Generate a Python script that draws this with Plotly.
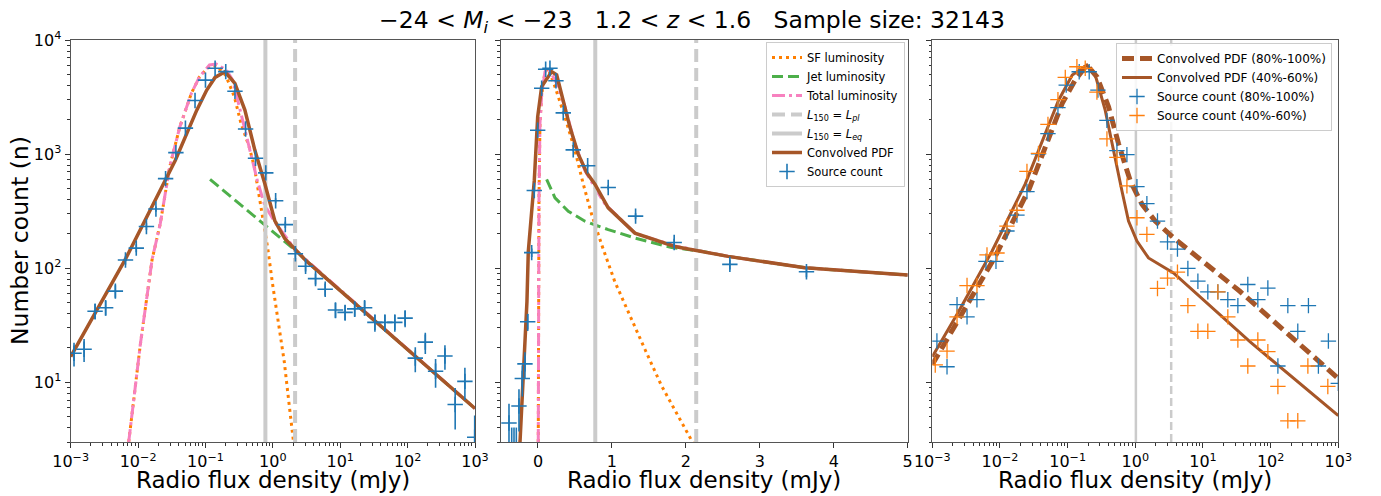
import numpy as np
import plotly.graph_objects as go

# ---------------- data ----------------
# Panel 1 (log flux axis) : source counts
p1_flux = [1.12e-3, 1.58e-3, 2.3e-3, 3.3e-3, 4.6e-3, 6.5e-3, 9.4e-3, 0.0133, 0.0184, 0.0256,
           0.0364, 0.0504, 0.070, 0.100, 0.139, 0.200, 0.274, 0.394, 0.553, 0.785,
           1.10, 1.53, 2.16, 3.06, 4.3, 5.98, 8.5, 11.8, 16.4, 23.0,
           32.7, 46.0, 64.6, 91.8, 130, 183, 260, 358, 508, 708, 990]
p1_count = [18, 19.5, 42, 45, 63, 118, 150, 232, 330, 610,
            1030, 1690, 2950, 4450, 5650, 5280, 3560, 1660, 920, 685,
            390, 241, 134, 104, 81, 65.5, 43, 41, 44, 45,
            33.5, 33.5, 33.5, 36.5, 16.3, 22.5, 12.5, 17, 6.4, 10.2, 3.3]

# Panel 1 model curves
p1_conv_x = [0.001, 0.00649, 0.0356, 0.0743, 0.1045, 0.1387, 0.195, 0.2735, 0.3846, 0.541,
             0.759, 1.067, 1.50, 2.234, 3.133, 1000]
p1_conv_y = [16.8, 120, 880, 2430, 3640, 4700, 5260, 4160, 2430, 1080,
             553, 262, 182, 143, 116, 5.9]
p1_total_x = [0.00726, 0.0108, 0.01614, 0.0214, 0.0294, 0.0416, 0.0617, 0.0815, 0.1148, 0.1445,
              0.204, 0.2536, 0.318, 0.398, 0.478, 0.589, 0.758, 1.067, 2.234, 1000]
p1_total_y = [3.0, 21.5, 119, 248, 770, 1730, 3400, 4760, 6040, 6160,
              5460, 4450, 2600, 1510, 1005, 585, 355, 255, 141, 5.9]
p1_sf_x = [0.00726, 0.0108, 0.01614, 0.0214, 0.0294, 0.0416, 0.0617, 0.0815, 0.1148, 0.1445,
           0.2, 0.2685, 0.337, 0.447, 0.532, 0.617, 0.706, 0.838, 0.993, 1.178,
           1.479, 1.71, 1.96, 2.04]
p1_sf_y = [3.0, 21.5, 119, 248, 770, 1730, 3400, 4760, 5900, 5950,
           4900, 3180, 1860, 1150, 770, 448, 260, 151, 72, 36.5,
           15.1, 7.1, 3.4, 2.9]
p1_jet_x = [0.117, 0.80, 2.234, 3.133, 1000]
p1_jet_y = [600, 232, 141, 116, 5.9]

# Panel 2 (linear flux axis) : source counts
p2_flux = [-0.392, -0.355, -0.324, -0.293, -0.257, -0.212, -0.176, -0.139, -0.085, -0.05,
           -0.004, 0.05, 0.104, 0.162, 0.243, 0.342, 0.477, 0.672, 0.95, 1.32,
           1.842, 2.595, 3.631]
p2_count = [4.4, 2.45, 2.45, 2.45, 6.2, 10.8, 14.5, 34, 137, 480,
            1620, 3780, 5550, 5650, 4400, 2300, 1090, 790, 510, 286,
            168, 108, 93]

# Panel 2 model curves
p2_conv_x = [-0.243, -0.149, -0.131, -0.05, -0.004, 0.05, 0.095, 0.185, 0.253, 0.32,
             0.432, 0.545, 0.658, 0.77, 0.95, 1.311, 1.851, 2.572, 3.608, 5.0]
p2_conv_y = [3.0, 51, 140, 585, 2120, 3900, 4320, 5280, 4940, 3400,
             1725, 1000, 690, 545, 338, 203, 155, 127, 101, 87]
p2_total_x = [0.004, 0.0135, 0.027, 0.05, 0.095, 0.139, 0.253, 0.365, 0.5, 0.635,
              0.77, 0.905, 1.311, 1.851, 2.572, 3.608, 5.0]
p2_total_y = [3.0, 390, 1860, 3290, 5280, 5670, 4180, 2600, 1235, 718,
              508, 366, 203, 157, 127, 101, 87]
p2_sf_x = [0.004, 0.0135, 0.027, 0.05, 0.095, 0.139, 0.23, 0.365, 0.5, 0.612,
           0.726, 0.861, 1.04, 1.22, 1.446, 1.672, 1.896, 2.077, 2.11]
p2_sf_y = [3.0, 390, 1860, 3290, 5280, 5600, 3900, 2110, 1075, 548,
           296, 161, 76, 41.3, 19.5, 9.3, 5.0, 3.1, 2.9]
p2_jet_x = [0.117, 0.23, 0.41, 0.635, 0.95, 1.311, 1.807, 2.212, 2.572, 3.608, 5.0]
p2_jet_y = [600, 414, 316, 258, 218, 184, 152, 141, 127, 101, 87]

# Panel 3 (log flux axis) : two sub-samples
p3_hi_flux = [1.17e-3, 1.65e-3, 2.32e-3, 3.26e-3, 4.57e-3, 6.21e-3, 8.73e-3, 0.01268, 0.01782, 0.02506,
              0.03715, 0.0512, 0.0719, 0.0953, 0.1483, 0.2084, 0.2805, 0.381, 0.535, 0.752,
              1.057, 1.483, 2.128, 2.992, 4.198, 5.984, 8.414, 11.8, 16.6, 23.3,
              32.8, 46.0, 64.7, 91.0, 128, 179.5, 252, 362, 508, 714, 1000]
p3_hi_count = [23, 13.7, 48, 37.5, 53, 115, 115, 212, 292, 470,
               1005, 1510, 2560, 4030, 5270, 5270, 3640, 1975, 1075, 990,
               518, 368, 259, 170, 147, 99.5, 77, 62, 62, 53,
               47, 72, 53, 67, 13.9, 47, 28, 47, 13.9, 23, 9.8]
p3_lo_flux = [1.106e-3, 1.65e-3, 2.32e-3, 3.26e-3, 4.57e-3, 6.43e-3, 9.04e-3, 0.01268, 0.01782, 0.02506,
              0.03715, 0.0512, 0.0719, 0.0923, 0.1371, 0.182, 0.271, 0.381, 0.535, 0.752,
              1.057, 1.483, 2.128, 2.992, 4.198, 5.984, 8.414, 11.8, 16.6, 23.3,
              32.8, 46.0, 64.7, 91.0, 128, 179.5, 252, 355, 700]
p3_lo_count = [14.2, 18.8, 37.5, 70.5, 70.5, 131, 136, 234, 322, 705,
               1015, 1820, 3000, 4700, 5830, 5650, 3500, 1360, 935, 527,
               277, 198, 66.5, 82, 92.5, 47, 28, 28, 62, 37.5,
               23.5, 13.9, 23.5, 18.6, 9.2, 4.6, 4.6, 13.9, 9.2]

p3_conv_hi_x = [0.001, 2.6e-3, 8.53e-3, 0.0271, 0.0832, 0.1294, 0.1928, 0.271, 0.402, 0.565,
                0.841, 1.253, 1.968, 3.664, 35.4, 1000]
p3_conv_hi_y = [14.3, 37.5, 127, 497, 2790, 4460, 6040, 4760, 2600, 1235,
                585, 364, 259, 185, 62.5, 10.8]
p3_conv_lo_x = [0.001, 2.44e-3, 7.62e-3, 0.02366, 0.0735, 0.117, 0.1928, 0.256, 0.359, 0.505,
                0.634, 0.794, 1.057, 1.567, 3.664, 49.8, 1000]
p3_conv_lo_y = [16.8, 41.5, 141, 548, 2970, 4930, 6040, 4930, 2430, 880,
                478, 259, 173, 123, 91, 22.6, 5.1]

# Characteristic fluxes (vertical lines)
p12_L_eq, p12_L_pl = 0.775, 2.14
p3_L_eq, p3_L_pl = 1.02, 3.39

# Axis tick labels
log_tickvals = [1e-3, 1e-2, 1e-1, 1e0, 1e1, 1e2, 1e3]
log_ticktext = ["10<sup>\u22123</sup>", "10<sup>\u22122</sup>", "10<sup>\u22121</sup>",
                "10<sup>0</sup>", "10<sup>1</sup>", "10<sup>2</sup>", "10<sup>3</sup>"]
y_tickvals = [1e1, 1e2, 1e3, 1e4]
y_ticktext = ["10<sup>1</sup>", "10<sup>2</sup>", "10<sup>3</sup>", "10<sup>4</sup>"]
lin_tickvals = [0, 1, 2, 3, 4, 5]

# ---------------- styling ----------------
FONT = "DejaVu Sans"
BROWN = "#a65628"
ORANGE_L = "#ff7f00"
GREEN = "#4daf4a"
PINK = "#f781bf"
GREY = "#cbcbcb"
BLUE = "#1f77b4"
ORANGE = "#ff7f0e"
Y_LO, Y_HI = 3.0, 1e4

fig = go.Figure()


def line(x, y, xa, ya, color, width, dash=None, name=None, legend=None, show=False):
    fig.add_trace(go.Scatter(
        x=x, y=y, mode="lines", xaxis=xa, yaxis=ya, name=name,
        line=dict(color=color, width=width, dash=dash),
        showlegend=show, legend=legend, hoverinfo="skip"))


def points(x, y, xa, ya, color, name=None, legend=None, show=False, err=True, size=11, lw=1.6):
    fig.add_trace(go.Scatter(
        x=x, y=y, mode="markers", xaxis=xa, yaxis=ya, name=name,
        marker=dict(symbol="cross-thin", size=size, color=color,
                    line=dict(width=lw, color=color)),
        error_y=dict(type="data", array=list(np.sqrt(np.array(y))), visible=err,
                     thickness=lw, width=0, color=color),
        showlegend=show, legend=legend, hoverinfo="skip"))


DOT = "3px,4px"
DASH = "11px,5px"
DASHDOT = "13px,4px,3px,4px"
VDASH = "13px,6px"

# ---- panel 1 ----
line(p1_sf_x, p1_sf_y, "x", "y", ORANGE_L, 3, DOT)
line(p1_jet_x, p1_jet_y, "x", "y", GREEN, 3, DASH)
line(p1_total_x, p1_total_y, "x", "y", PINK, 3, DASHDOT)
line([p12_L_pl, p12_L_pl], [Y_LO, Y_HI], "x", "y", GREY, 4, VDASH)
line([p12_L_eq, p12_L_eq], [Y_LO, Y_HI], "x", "y", GREY, 4)
line(p1_conv_x, p1_conv_y, "x", "y", BROWN, 3.5)
points(p1_flux, p1_count, "x", "y", BLUE)

# ---- panel 2 ----
line(p2_sf_x, p2_sf_y, "x2", "y2", ORANGE_L, 3, DOT, "SF luminosity", "legend", True)
line(p2_jet_x, p2_jet_y, "x2", "y2", GREEN, 3, DASH, "Jet luminosity", "legend", True)
line(p2_total_x, p2_total_y, "x2", "y2", PINK, 3, DASHDOT, "Total luminosity", "legend", True)
line([p12_L_pl, p12_L_pl], [Y_LO, Y_HI], "x2", "y2", GREY, 4, VDASH,
     "<i>L</i><sub>150</sub> = <i>L<sub>pl</sub></i>", "legend", True)
line([p12_L_eq, p12_L_eq], [Y_LO, Y_HI], "x2", "y2", GREY, 4, None,
     "<i>L</i><sub>150</sub> = <i>L<sub>eq</sub></i>", "legend", True)
line(p2_conv_x, p2_conv_y, "x2", "y2", BROWN, 3.5, None, "Convolved PDF", "legend", True)
points(p2_flux, p2_count, "x2", "y2", BLUE, "Source count", "legend", True)

# ---- panel 3 ----
line([p3_L_eq, p3_L_eq], [Y_LO, Y_HI], "x3", "y3", GREY, 2.5)
line([p3_L_pl, p3_L_pl], [Y_LO, Y_HI], "x3", "y3", GREY, 2.5, "8px,4px")
line(p3_conv_hi_x, p3_conv_hi_y, "x3", "y3", BROWN, 5, "12px,6px",
     "Convolved PDF (80%-100%)", "legend2", True)
line(p3_conv_lo_x, p3_conv_lo_y, "x3", "y3", BROWN, 3, None,
     "Convolved PDF (40%-60%)", "legend2", True)
points(p3_hi_flux, p3_hi_count, "x3", "y3", BLUE, "Source count (80%-100%)", "legend2", True,
       err=False, size=11, lw=1.3)
points(p3_lo_flux, p3_lo_count, "x3", "y3", ORANGE, "Source count (40%-60%)", "legend2", True,
       err=False, size=11, lw=1.3)

# ---------------- layout ----------------
# the page body has an 8px margin, so the figure is offset by (8, 8) in the window
OFF = 8
W, H = 1381 - OFF, 496 - OFF
LEFT = [70.7 - OFF, 501 - OFF, 932.3 - OFF]
RIGHT = [475 - OFF, 907.7 - OFF, 1338.3 - OFF]
TOP, BOT = 40 - OFF, 442 - OFF
ydom = [1 - BOT / H, 1 - TOP / H]

tickfont = dict(family=FONT, size=16, color="black")
axis_common = dict(showline=True, linecolor="#555555", linewidth=1.3, mirror=True,
                   ticks="outside", ticklen=5, tickwidth=1.2, tickcolor="#333333",
                   showgrid=False, zeroline=False, tickfont=tickfont, automargin=False)
minor_x = [m * 10.0 ** e for e in range(-3, 3) for m in range(2, 10)]
minor_y = [m * 10.0 ** e for e in range(0, 4) for m in range(2, 10)]

log_x = dict(type="log", range=[-3, 3], tickmode="array", tickvals=log_tickvals,
             ticktext=log_ticktext,
             minor=dict(ticks="outside", ticklen=2.5, tickwidth=0.8, tickcolor="#333333",
                        tickmode="array", tickvals=minor_x, showgrid=False),
             **axis_common)
y_ax = dict(type="log", range=[np.log10(Y_LO), 4], tickmode="array", tickvals=y_tickvals,
            ticktext=y_ticktext,
            minor=dict(ticks="outside", ticklen=2.5, tickwidth=0.8, tickcolor="#333333",
                       tickmode="array", tickvals=minor_y, showgrid=False),
            **axis_common)

NB = "\u00a0"
title_text = ("\u221224 < <i>M<sub>i</sub></i> < \u221223" + NB * 3 +
              "1.2 < <i>z</i> < 1.6" + NB * 3 + "Sample size: 32143")

fig.update_layout(
    template="none",
    width=W, height=H,
    margin=dict(l=0, r=0, t=0, b=0, pad=0, autoexpand=False),
    paper_bgcolor="white", plot_bgcolor="white",
    font=dict(family=FONT, color="black"),
    xaxis=dict(domain=[LEFT[0] / W, RIGHT[0] / W], anchor="y", **log_x),
    xaxis2=dict(domain=[LEFT[1] / W, RIGHT[1] / W], anchor="y2", range=[-0.5, 5],
                tickmode="array", tickvals=lin_tickvals, **axis_common),
    xaxis3=dict(domain=[LEFT[2] / W, RIGHT[2] / W], anchor="y3", **log_x),
    yaxis=dict(domain=ydom, anchor="x", **y_ax),
    yaxis2=dict(domain=ydom, anchor="x2", showticklabels=False, **y_ax),
    yaxis3=dict(domain=ydom, anchor="x3", showticklabels=False, **y_ax),
    title=dict(text=title_text,
               x=(692 - OFF) / W, xanchor="center", y=1 - (20 - OFF) / H, yanchor="middle",
               xref="paper", yref="container",
               font=dict(family=FONT, size=23.5, color="black")),
    legend=dict(x=(905 - OFF) / W, xanchor="right", y=1 - (42 - OFF) / H, yanchor="top",
                bgcolor="rgba(255,255,255,0.85)", bordercolor="#cccccc", borderwidth=1,
                font=dict(family=FONT, size=11.5, color="black"), tracegroupgap=0,
                itemwidth=30),
    legend2=dict(x=(1332 - OFF) / W, xanchor="right", y=1 - (43 - OFF) / H, yanchor="top",
                 bgcolor="rgba(255,255,255,0.85)", bordercolor="#cccccc", borderwidth=1,
                 font=dict(family=FONT, size=12, color="black"), tracegroupgap=0,
                 itemwidth=30),
    showlegend=True,
)

annos = [dict(text="Number count (n)", x=(20 - OFF) / W, y=1 - (241 - OFF) / H, textangle=-90,
              font=dict(family=FONT, size=23.5, color="black"))]
for lft, rgt in zip(LEFT, RIGHT):
    annos.append(dict(text="Radio flux density (mJy)", x=(lft + rgt) / 2 / W,
                      y=1 - (480 - OFF) / H,
                      font=dict(family=FONT, size=23, color="black")))
for a in annos:
    a.update(xref="paper", yref="paper", showarrow=False, xanchor="center", yanchor="middle")
fig.update_layout(annotations=annos)

fig.write_html("out.html")
